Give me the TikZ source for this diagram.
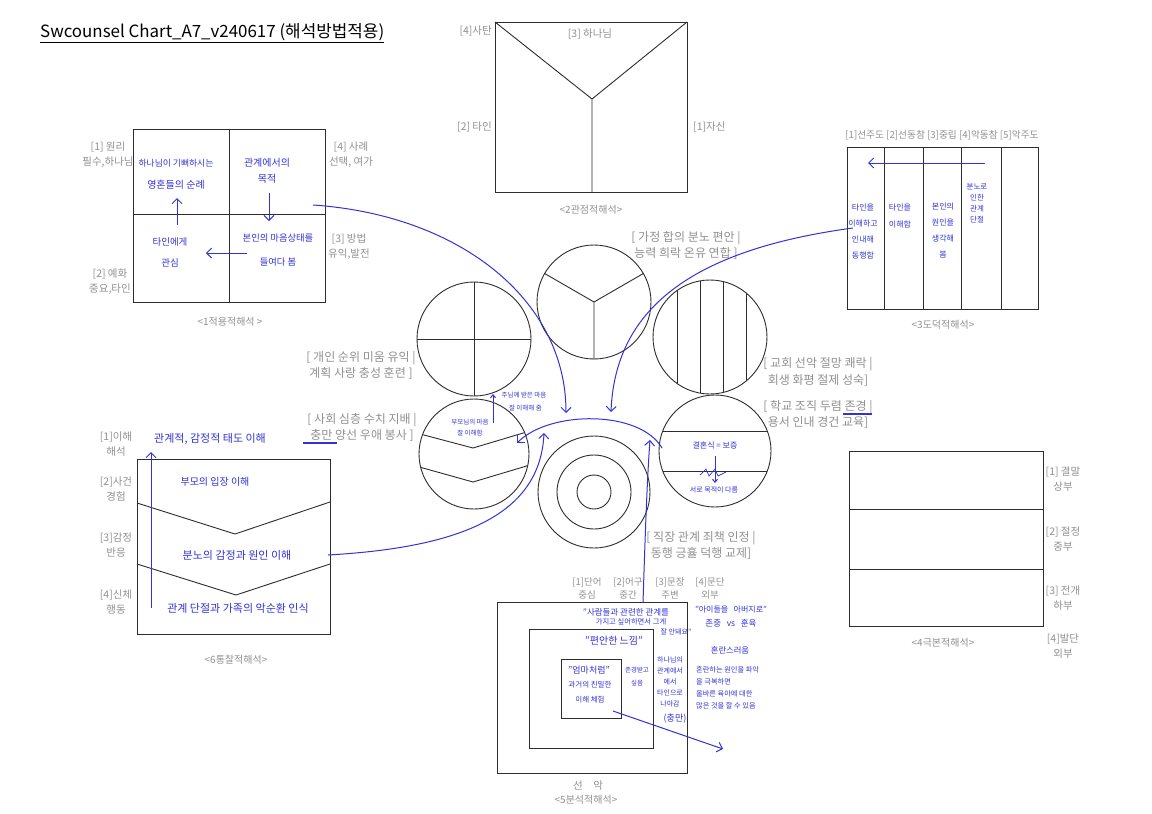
\documentclass[tikz,border=0pt]{standalone}
\usepackage{fontspec}
\setmainfont{Noto Sans CJK KR}
\usetikzlibrary{arrows.meta}
\definecolor{lblgray}{RGB}{145,145,145}
\definecolor{penblue}{RGB}{50,50,215}
\definecolor{ink}{RGB}{45,45,45}
\begin{document}
\begin{tikzpicture}[x=1pt,y=-1pt,
  lbl/.style={text=lblgray,font=\fontsize{10.5}{15}\selectfont,inner sep=0pt,align=center},
  ttl/.style={text=lblgray,font=\fontsize{10}{15}\selectfont,inner sep=0pt,align=center},
  blbl/.style={text=lblgray,font=\fontsize{12}{16}\selectfont,inner sep=0pt,align=center},
  hw/.style={text=penblue,font=\fontsize{9.5}{16}\selectfont,inner sep=0pt,align=center},
  hws/.style={text=penblue,font=\fontsize{6.5}{11}\selectfont,inner sep=0pt,align=center},
  frame/.style={draw=ink,line width=0.9pt},
  circ/.style={draw=ink,line width=0.9pt,circle,inner sep=0pt},
  penline/.style={draw=penblue,line width=1pt},
  penarrow/.style={penline,-{Straight Barb[length=5pt,width=10pt]}}]
\useasboundingbox[fill=white] (0,0) rectangle (1152,814);

% title
\node[anchor=west,inner sep=0pt,font=\fontsize{16.9}{20}\selectfont] (title) at (40,33) {\underline{Swcounsel Chart\_A7\_v240617 (해석방법적용)}};

% ---------- box 1 ----------
\draw[frame] (133,129) rectangle (325,302);
\draw[frame] (229,129) -- (229,302) (133,214) -- (325,214);
\node[lbl] (b1a) at (108,155) {[1] 원리\\필수,하나님};
\node[lbl] (b1b) at (351,155) {[4] 사례\\선택, 여가};
\node[lbl] (b1c) at (349,247) {[3] 방법\\유익,발전};
\node[lbl] (b1d) at (110,282) {[2] 예화\\중요,타인};
\node[ttl] (b1t) at (230,322) {<1적용적해석 >};
\node[hw,font=\fontsize{8.8}{12}\selectfont] (h11) at (176,163) {하나님이 기뻐하시는};
\node[hw,font=\fontsize{10}{12}\selectfont] (h11b) at (176,185) {영혼들의 순례};
\node[hw,font=\fontsize{10}{16}\selectfont] (h12) at (267,171) {관계에서의\\목적};
\node[hw,font=\fontsize{9.3}{24}\selectfont] (h13) at (278,250) {본인의 마음상태를\\들여다 봄};
\node[hw,font=\fontsize{9.5}{21}\selectfont] (h14) at (170,252) {타인에게\\관심};
\coordinate (a11s) at (269,193); \coordinate (a11e) at (269,221);
\coordinate (a12s) at (247,253); \coordinate (a12e) at (206,253);
\coordinate (a13s) at (177,225); \coordinate (a13e) at (177,198);
\draw[penarrow] (a11s) -- (a11e);
\draw[penarrow] (a12s) -- (a12e);
\draw[penarrow] (a13s) -- (a13e);

% ---------- box 2 ----------
\draw[frame] (495,22) rectangle (687,192);
\coordinate (y2) at (592,99);
\draw[frame] (495,22) -- (y2) -- (687,22) (y2) -- (592,192);
\node[lbl,anchor=east] (b2a) at (492,31) {[4]사탄};
\node[lbl] (b2b) at (590,34) {[3] 하나님};
\node[lbl,anchor=east] (b2c) at (492,127) {[2] 타인};
\node[lbl,anchor=west] (b2d) at (693,127) {[1]자신};
\node[ttl] (b2t) at (591,210) {<2관점적해석>};

% ---------- box 3 ----------
\draw[frame] (847,147) rectangle (1038,309);
\draw[frame] (884,147) -- (884,309) (923,147) -- (923,309) (961,147) -- (961,309) (1001,147) -- (1001,309);
\node[lbl,font=\fontsize{9.7}{13}\selectfont] (b3a) at (942,135) {[1]선주도 [2]선동참 [3]중립 [4]악동참 [5]악주도};
\node[ttl] (b3t) at (943,325) {<3도덕적해석>};
\coordinate (a31s) at (985,163); \coordinate (a31e) at (868,163);
\draw[penarrow] (a31s) -- (a31e);
\node[hw,font=\fontsize{8}{16}\selectfont] (h31) at (863,231) {타인을\\이해하고\\인내해\\동행함};
\node[hw,font=\fontsize{8}{17}\selectfont] (h32) at (900,216) {타인을\\이해함};
\node[hw,font=\fontsize{8}{16}\selectfont] (h33) at (943,230) {본인의\\원인을\\생각해\\봄};
\node[hw,font=\fontsize{7.5}{11}\selectfont] (h34) at (977,203) {분노로\\인한\\관계\\단절};

% ---------- circles ----------
\node[circ,minimum size=114pt] (cA) at (474,339) {};
\draw[frame] (cA.north) -- (cA.south) (cA.west) -- (cA.east);
\node[circ,minimum size=114pt] (cB) at (594,302) {};
\draw[frame] (cB.center) -- (cB.150) (cB.center) -- (cB.30) (cB.center) -- (cB.south);
\node[circ,minimum size=114pt] (cC) at (710,337) {};
\begin{scope}
\clip (cC.center) circle[radius=57];
\draw[frame] (677,270) -- (677,400) (700,270) -- (700,400) (723,270) -- (723,400) (746,270) -- (746,400);
\end{scope}
\node[circ,minimum size=110pt] (cD) at (474,454) {};
\begin{scope}
\clip (cD.center) circle[radius=55];
\draw[frame] (405,430) -- (473,448) -- (540,428);
\draw[frame] (405,463) -- (473,482) -- (540,462);
\end{scope}
\node[circ,minimum size=112pt] (cE) at (594,492) {};
\node[circ,minimum size=74pt] (cE2) at (594,492) {};
\node[circ,minimum size=34pt] (cE3) at (594,492) {};
\node[circ,minimum size=112pt] (cF) at (715,451) {};
\begin{scope}
\clip (cF.center) circle[radius=56];
\draw[frame] (650,431) -- (780,431) (650,471) -- (780,471);
\end{scope}

% circle labels
\node[blbl] (lB) at (686,245.5) {[ 가정 합의 분노 편안 |\\능력 희락 온유 연합 ]};
\node[blbl] (lA) at (361,365) {[ 개인 순위 미움 유익 |\\계획 사랑 충성 훈련 ]};
\node[blbl,font=\fontsize{12}{17}\selectfont] (lC) at (818,372) {[ 교회 선악 절망 쾌락 |\\회생 화평 절제 성숙]};
\node[blbl] (lF) at (818,414) {[ 학교 조직 두렴 존경 |\\용서 인내 경건 교육]};
\node[blbl] (lD) at (362,427) {[ 사회 심층 수치 지배 |\\충만 양선 우애 봉사 ]};
\node[blbl,font=\fontsize{12}{15.5}\selectfont] (lE) at (701,545.5) {[ 직장 관계 죄책 인정 |\\동행 긍휼 덕행 교제]};
\coordinate (u1s) at (303,443); \coordinate (u1e) at (337,443);
\coordinate (u2s) at (843,414); \coordinate (u2e) at (872,414);
\draw[penline,line width=1.2pt] (u1s) -- (u1e);
\draw[penline,line width=1.2pt] (u2s) -- (u2e);

% handwriting in circles
\node[hws] (hD1) at (470,428) {부모님의 마음\\잘 이해함};
\coordinate (aDs) at (493,423); \coordinate (aDe) at (493,394);
\draw[penline,-{Straight Barb[length=3pt,width=5pt]}] (aDs) -- (aDe);
\node[hws,font=\fontsize{6.5}{13}\selectfont] (hD2) at (524,402) {주님께 받은 마음\\\ \ 잘 이해해 줌};
\node[hws,font=\fontsize{8}{11}\selectfont] (hF1) at (715,445) {결혼식 = 보증};
\coordinate (aFs) at (715,456); \coordinate (aFe) at (715,483);
\draw[penline,-{Straight Barb[length=3pt,width=5pt]}] (aFs) -- (aFe);
\coordinate (zz) at (700,475);
\draw[penline,line width=0.7pt] (zz) -- ++(6,-6) -- ++(3,7) -- ++(6,-7) -- ++(3,7) -- ++(8,-4);
\node[hws,font=\fontsize{7}{11}\selectfont] (hF2) at (714,490) {서로 목적이 다름};

% ---------- box 6 ----------
\draw[frame] (137,459) rectangle (330,634);
\draw[frame] (137,503) -- (235,534) -- (330,502);
\draw[frame] (137,564) -- (236,595) -- (330,564);
\node[lbl] (b6a) at (116,444) {[1]이해\\해석};
\node[lbl] (b6b) at (116,489) {[2]사건\\경험};
\node[lbl] (b6c) at (116,545) {[3]감정\\반응};
\node[lbl] (b6d) at (116,602) {[4]신체\\행동};
\node[ttl] (b6t) at (236,660) {<6통찰적해석>};
\node[hw,font=\fontsize{11}{12}\selectfont] (h61) at (210,439) {관계적, 감정적 태도 이해};
\node[hw,font=\fontsize{10}{12}\selectfont] (h62) at (215,482) {부모의 입장 이해};
\node[hw,font=\fontsize{11}{12}\selectfont] (h63) at (237,555) {분노의 감정과 원인 이해};
\node[hw,font=\fontsize{11}{12}\selectfont] (h64) at (238,608) {관계 단절과 가족의 악순환 인식};
\coordinate (a61s) at (151,608); \coordinate (a61e) at (151,452);
\draw[penarrow] (a61s) -- (a61e);

% ---------- box 5 ----------
\draw[frame] (497,602) rectangle (687,773);
\draw[frame] (529,629) rectangle (653,748);
\draw[frame] (561,659) rectangle (621,718);
\node[lbl,font=\fontsize{9.5}{13.5}\selectfont] (b5a) at (587,588.5) {[1]단어\\중심};
\node[lbl,font=\fontsize{9.5}{13.5}\selectfont] (b5b) at (628,588.5) {[2]어구\\중간};
\node[lbl,font=\fontsize{9.5}{13.5}\selectfont] (b5c) at (670,588.5) {[3]문장\\주변};
\node[lbl,font=\fontsize{9.5}{13.5}\selectfont] (b5d) at (710,588.5) {[4]문단\\외부};
\node[lbl] (b5s) at (588,786) {선\quad 악};
\node[ttl] (b5t) at (586,800) {<5분석적해석>};
\node[hws,font=\fontsize{8.5}{11}\selectfont] (h51a) at (626,612) {"사람들과 관련한 관계를};
\node[hws,font=\fontsize{7.3}{11}\selectfont] (h51b) at (631,622) {가지고 싶어하면서 그게};
\node[hws,font=\fontsize{7}{11}\selectfont] (h51c) at (676,632) {잘 안돼요"};
\node[hws,font=\fontsize{10}{11}\selectfont] (h52) at (614,641) {"편안한 느낌"};
\node[hws,font=\fontsize{9}{11}\selectfont] (h53a) at (589,670) {"엄마처럼"};
\node[hws,font=\fontsize{7.5}{15}\selectfont] (h53) at (590,692.5) {과거의 친밀한\\이해 체험};
\node[hws,font=\fontsize{6.5}{13}\selectfont] (h54) at (637,677) {존경받고\\싶음};
\node[hws,font=\fontsize{7}{11}\selectfont] (h55) at (670,682) {하나님의\\관계에서\\에서\\타인으로\\나아감};
\node[hws,font=\fontsize{9}{11}\selectfont] (h55b) at (675,719) {(충만)};
\node[hws,font=\fontsize{8}{11}\selectfont] (h56) at (731,610) {"아이들을\ \ \ 아버지로"};
\node[hws,font=\fontsize{8.5}{11}\selectfont] (h56b) at (731,623) {존중\ \ \ vs\ \ \ 훈육};
\node[hws,font=\fontsize{8.3}{11}\selectfont] (h57) at (730,650) {혼란스러움};
\node[hws,font=\fontsize{7.2}{12}\selectfont,align=left,anchor=north west] (h58) at (696,666) {혼란하는 원인을 파악\\을 극복하면\\올바른 육아에 대한\\많은 것을 할 수 있음};
\coordinate (a51s) at (613,711); \coordinate (a51e) at (723,749);
\draw[penarrow] (a51s) -- (a51e);

% ---------- box 4 ----------
\draw[frame] (849,451) rectangle (1043,626);
\draw[frame] (849,509) -- (1043,509) (849,569) -- (1043,569);
\node[lbl] (b4a) at (1063,479) {[1] 결말\\상부};
\node[lbl] (b4b) at (1063,539) {[2] 절정\\중부};
\node[lbl] (b4c) at (1063,598) {[3] 전개\\하부};
\node[lbl] (b4d) at (1063,646) {[4]발단\\외부};
\node[ttl] (b4t) at (943,643) {<4극본적해석>};

% ---------- long blue connectors ----------
\coordinate (c1s) at (313,205); \coordinate (c1e) at (566,413);
\draw[penarrow] (c1s) .. controls (460,215) and (566,300) .. (c1e);
\coordinate (c2s) at (853,228); \coordinate (c2e) at (611,412);
\draw[penarrow] (c2s) .. controls (690,250) and (615,310) .. (c2e);
\coordinate (c3s) at (328,555); \coordinate (c3e) at (544,433);
\draw[penarrow] (c3s) .. controls (450,548) and (540,520) .. (c3e);
\coordinate (c4s) at (662,448); \coordinate (c4e) at (517,443);
\draw[penarrow] (c4s) .. controls (640,410) and (550,410) .. (c4e);
\coordinate (c5s) at (643,603); \coordinate (c5e) at (650,440);
\draw[penarrow] (c5s) .. controls (645,540) and (647,480) .. (c5e);
\end{tikzpicture}
\end{document}
